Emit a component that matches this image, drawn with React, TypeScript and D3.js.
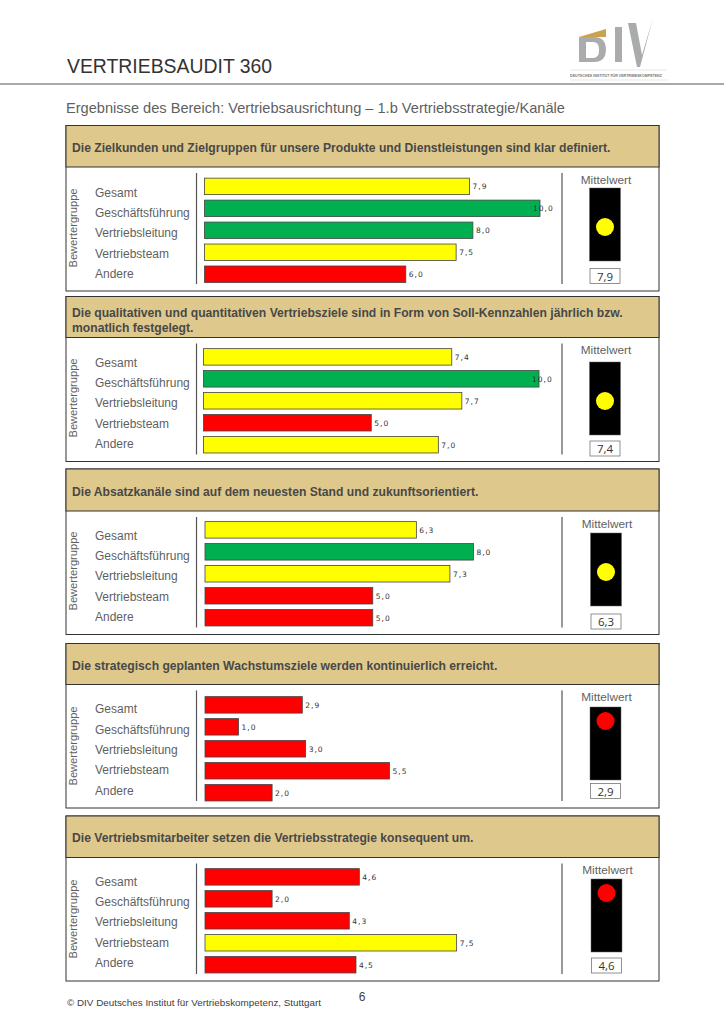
import React from 'react'
import * as d3 from 'd3'

const groups = ['Gesamt', 'Geschäftsführung', 'Vertriebsleitung', 'Vertriebsteam', 'Andere']

const questions = [
  ['Die Zielkunden und Zielgruppen für unsere Produkte und Dienstleistungen sind klar definiert.'],
  [
    'Die qualitativen und quantitativen Vertriebsziele sind in Form von Soll-Kennzahlen jährlich bzw.',
    'monatlich festgelegt.',
  ],
  ['Die Absatzkanäle sind auf dem neuesten Stand und zukunftsorientiert.'],
  ['Die strategisch geplanten Wachstumsziele werden kontinuierlich erreicht.'],
  ['Die Vertriebsmitarbeiter setzen die Vertriebsstrategie konsequent um.'],
]

const scores = [
  [7.9, 10, 8, 7.5, 6],
  [7.4, 10, 7.7, 5, 7],
  [6.3, 8, 7.3, 5, 5],
  [2.9, 1, 3, 5.5, 2],
  [4.6, 2, 4.3, 7.5, 4.5],
]

// page geometry of each block
const panels = [
  { top: 125.5, head: 167, bottom: 291, x0: 204.5, barY: 186.5, labelY: 192, step: 20.3, light: 188, cx: 605, box: 268.5, mean: 184, axis: 228 },
  { top: 296.5, head: 337.5, bottom: 461.5, x0: 203.5, barY: 357, labelY: 362, step: 20.3, light: 362, cx: 605, box: 441, mean: 354, axis: 398 },
  { top: 469, head: 511, bottom: 634.5, x0: 205, barY: 530, labelY: 535, step: 20.3, light: 533, cx: 606, box: 614, mean: 528, axis: 571 },
  { top: 643.5, head: 684.5, bottom: 808, x0: 205, barY: 705, labelY: 708.5, step: 20.4, light: 707, cx: 605.5, box: 783.5, mean: 701, axis: 746 },
  { top: 816, head: 857.5, bottom: 981, x0: 205, barY: 877, labelY: 881, step: 20.4, light: 879, cx: 606.5, box: 958, mean: 874, axis: 919 },
]

const sans = '"Liberation Sans", Arial, sans-serif'
const grey = '#5f5f5f'
const tan = '#DFC88C'
const logoGrey = '#A9ABAC'

const colour = d3.scaleThreshold<number, string>().domain([6.1, 8]).range(['#FF0000', '#FFFF00', '#00B050'])
const fmt = (v: number) => v.toFixed(1).replace('.', ',')

const Panel = ({ index }: { index: number }) => {
  const p = panels[index]
  const values = scores[index]
  const lines = questions[index]
  const x = d3.scaleLinear().domain([0, 10]).range([p.x0, p.x0 + 335.5])
  const y = d3
    .scaleBand<string>()
    .domain(groups)
    .range([p.barY - 11, p.barY + 4 * 21.9 + 11])
    .paddingInner(0.25)
    .paddingOuter(0.12)
  const avg = values[0]
  const headMid = (p.top + p.head) / 2

  return (
    <g>
      <rect x={66} y={p.top} width={593} height={p.bottom - p.top} fill="#fff" stroke="#333" strokeWidth={1} />
      <rect x={66} y={p.top} width={593} height={p.head - p.top} fill={tan} stroke="#333" strokeWidth={1} />
      {lines.map((line, i) => (
        <text
          key={i}
          x={72}
          y={headMid + 5.5 + (lines.length > 1 ? 2 : 0) + (i - (lines.length - 1) / 2) * 15}
          fontFamily={sans}
          fontSize={12.15}
          fontWeight="bold"
          fill="#484848"
        >
          {line}
        </text>
      ))}

      <text
        transform={`translate(77,${p.axis}) rotate(-90)`}
        textAnchor="middle"
        fontFamily={sans}
        fontSize={11.1}
        fill={grey}
      >
        Bewertergruppe
      </text>
      {groups.map((g, i) => (
        <text key={g} x={95} y={p.labelY + i * p.step + 4.6} fontFamily={sans} fontSize={12} fill={grey}>
          {g}
        </text>
      ))}
      <line x1={196.5} x2={196.5} y1={p.head + 6} y2={p.bottom - 7} stroke="#555" strokeWidth={1.2} />
      <line x1={562} x2={562} y1={p.head + 6} y2={p.bottom - 7} stroke="#555" strokeWidth={1.2} />

      {groups.map((g, i) => (
        <g key={g}>
          <rect
            x={x(0)}
            y={y(g)}
            width={x(values[i]) - x(0)}
            height={y.bandwidth()}
            fill={colour(values[i])}
            stroke="#444"
            strokeWidth={0.8}
          />
          <text
            x={x(values[i]) + (values[i] === 10 ? -7 : 3)}
            y={(y(g) as number) + y.bandwidth() / 2 + 3}
            fontFamily='"DejaVu Sans", sans-serif'
            fontSize={7.5}
            letterSpacing={1}
            fill="#333"
          >
            {fmt(values[i])}
          </text>
        </g>
      ))}

      <text x={p.cx + 1} y={p.mean} textAnchor="middle" fontFamily={sans} fontSize={11.8} fill={grey}>
        Mittelwert
      </text>
      <rect x={p.cx - 15.5} y={p.light} width={31} height={73} fill="#000" stroke="#666" strokeWidth={0.5} />
      <circle cx={p.cx} cy={p.light + (avg > 6 ? 39 : 14)} r={9} fill={colour(avg)} />
      <rect x={p.cx - 15} y={p.box} width={30} height={15} fill="#fff" stroke="#777" strokeWidth={0.8} />
      <text
        x={p.cx}
        y={p.box + 12}
        textAnchor="middle"
        fontFamily='"Open Sans", sans-serif'
        fontSize={11.5}
        fill="#333"
      >
        {fmt(avg)}
      </text>
    </g>
  )
}

const Logo = () => (
  <g>
    <path d="M579 37 L606 29 L606 37 Z" fill="#C9A24F" />
    <path
      d="M579 37 H594 Q606 37 606 50 V49 Q606 62 594 62 H579 Z M586 42 V58 H593 Q599 58 599 51 V49 Q599 42 593 42 Z"
      fill={logoGrey}
      fillRule="evenodd"
    />
    <rect x={615} y={27} width={7} height={35} fill={logoGrey} />
    <path d="M628 23 L636 23 L642 55 L653 18 L640 67 L637 67 Z" fill={logoGrey} />
    <line x1={570} x2={667} y1={70} y2={70} stroke="#ddd" strokeWidth={0.7} />
    <line x1={570} x2={667} y1={80} y2={80} stroke="#ddd" strokeWidth={0.7} />
    <text x={616} y={76.5} textAnchor="middle" fontFamily={sans} fontSize={3.6} fontWeight="bold" fill="#777">
      DEUTSCHES INSTITUT FÜR VERTRIEBSKOMPETENZ
    </text>
  </g>
)

export default function App() {
  return (
    <svg
      width={724}
      height={1024}
      viewBox="0 0 724 1024"
      style={{ position: 'absolute', left: 0, top: 0, display: 'block', background: '#fff' }}
    >
      <Logo />
      <text x={67} y={73} fontFamily={sans} fontSize={19.4} fill="#333">
        VERTRIEBSAUDIT 360
      </text>
      <line x1={0} x2={724} y1={84} y2={84} stroke="#555" strokeWidth={1} />
      <text x={66} y={113} fontFamily={sans} fontSize={14.6} fill={grey}>
        Ergebnisse des Bereich: Vertriebsausrichtung – 1.b Vertriebsstrategie/Kanäle
      </text>
      {panels.map((_, i) => (
        <Panel key={i} index={i} />
      ))}
      <text x={67} y={1006} fontFamily={sans} fontSize={9.85} fill="#404040">
        © DIV Deutsches Institut für Vertriebskompetenz, Stuttgart
      </text>
      <text x={362} y={1001} textAnchor="middle" fontFamily={sans} fontSize={12} fill="#404040">
        6
      </text>
    </svg>
  )
}
